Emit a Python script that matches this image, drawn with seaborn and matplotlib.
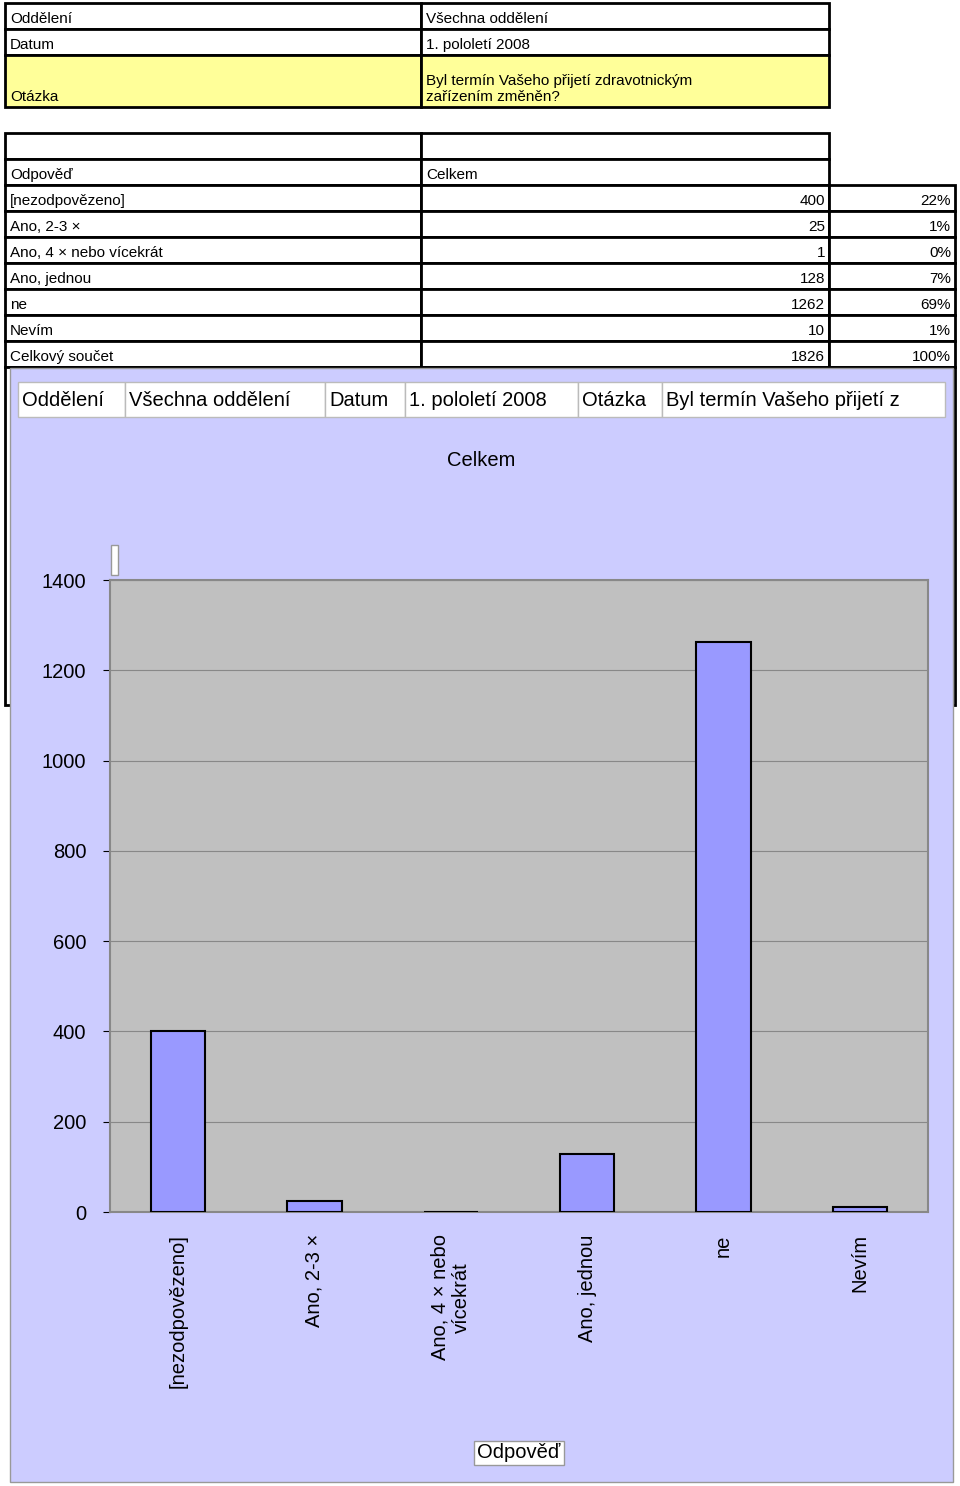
import matplotlib
matplotlib.use("Agg")
import matplotlib.pyplot as plt
import seaborn as sns
import pandas as pd
from matplotlib.patches import Rectangle

plt.rcParams["font.family"] = "Liberation Sans"

W, H = 960, 1486

info_labels = ["Oddělení", "Datum", "Otázka"]
info_values = ["Všechna oddělení", "1. pololetí 2008",
               "Byl termín Vašeho přijetí zdravotnickým\nzařízením změněn?"]
answers = ["[nezodpovězeno]", "Ano, 2-3 ×", "Ano, 4 × nebo vícekrát",
           "Ano, jednou", "ne", "Nevím"]
counts = [400, 25, 1, 128, 1262, 10]
shares = ["22%", "1%", "0%", "7%", "69%", "1%"]
total_label = "Celkový součet"
total = 1826
tick_labels = ["[nezodpovězeno]", "Ano, 2-3 ×", "Ano, 4 × nebo\nvícekrát",
               "Ano, jednou", "ne", "Nevím"]

fig = plt.figure(figsize=(W / 100, H / 100), dpi=100)
bg = fig.add_axes([0, 0, 1, 1])
bg.set_xlim(0, W)
bg.set_ylim(H, 0)
bg.axis("off")

def cell(x0, y0, x1, y1, text="", align="left", fc="white", lw=2, fs=11, va_bottom=True):
    bg.add_patch(Rectangle((x0, y0), x1 - x0, y1 - y0, fc=fc, ec="black", lw=lw))
    if text:
        tx = x0 + 5 if align == "left" else x1 - 4
        bg.text(tx, y1 - 3, text, ha=align, va="bottom", fontsize=fs, linespacing=1.15)

# top info table
rows = [(3, 29), (29, 55), (55, 107)]
for (y0, y1), lab, val in zip(rows, info_labels, info_values):
    fc = "#FFFF99" if lab == "Otázka" else "white"
    cell(5, y0, 421, y1, lab, fc=fc)
    cell(421, y0, 829, y1, val, fc=fc)

# answer table
cell(5, 133, 421, 159)
cell(421, 133, 829, 159)
cell(5, 159, 421, 185, "Odpověď")
cell(421, 159, 829, 185, "Celkem")
y = 185
for a, c, s in zip(answers + [total_label], counts + [total], shares + ["100%"]):
    cell(5, y, 421, y + 26, a)
    cell(421, y, 829, y + 26, str(c), align="right")
    cell(829, y, 955, y + 26, s, align="right")
    y += 26
# hidden table remnants behind chart
bg.add_patch(Rectangle((5, 367), 950, 338, fc="white", ec="black", lw=2))

# chart area
bg.add_patch(Rectangle((10, 368), 943, 1114, fc="#CCCCFF", ec="#999999", lw=1))
hdr = [("Oddělení", 18, 125), ("Všechna oddělení", 125, 325), ("Datum", 325, 405),
       ("1. pololetí 2008", 405, 578), ("Otázka", 578, 662),
       ("Byl termín Vašeho přijetí z", 662, 945)]
for t, x0, x1 in hdr:
    bg.add_patch(Rectangle((x0, 382), x1 - x0, 35, fc="white", ec="#BBBBBB", lw=1))
    bg.text(x0 + 4, 400, t, ha="left", va="center", fontsize=14.5, clip_on=True)
bg.text(481, 460, "Celkem", ha="center", va="center", fontsize=14.5)
bg.add_patch(Rectangle((111, 545), 7, 30, fc="white", ec="#999999", lw=1))
bg.text(519, 1453, "Odpověď", ha="center", va="center", fontsize=14.5,
        bbox=dict(fc="white", ec="#999999", pad=2))

ax = fig.add_axes([110 / W, (H - 1212) / H, 818 / W, 632 / H])
df = pd.DataFrame({"Odpověď": answers, "Celkem": counts})
sns.barplot(data=df, x="Odpověď", y="Celkem", ax=ax, color="#9999FF",
            saturation=1, width=0.4, edgecolor="black", linewidth=1.5, zorder=3)
ax.set_facecolor("#C0C0C0")
ax.set_ylim(0, 1400)
ax.set_yticks(range(0, 1401, 200))
ax.grid(axis="y", color="#888888", lw=0.8, zorder=0)
ax.set_xticks(range(len(answers)))
ax.set_xticklabels(tick_labels, rotation=90, va="top", ha="center", fontsize=14.5)
ax.tick_params(axis="y", labelsize=14.5, length=5, pad=12)
ax.tick_params(axis="x", length=0, pad=16)
ax.set_xlabel("")
ax.set_ylabel("")
for s in ax.spines.values():
    s.set_color("#888888")
    s.set_linewidth(1.5)

fig.savefig("out.png", dpi=100)
